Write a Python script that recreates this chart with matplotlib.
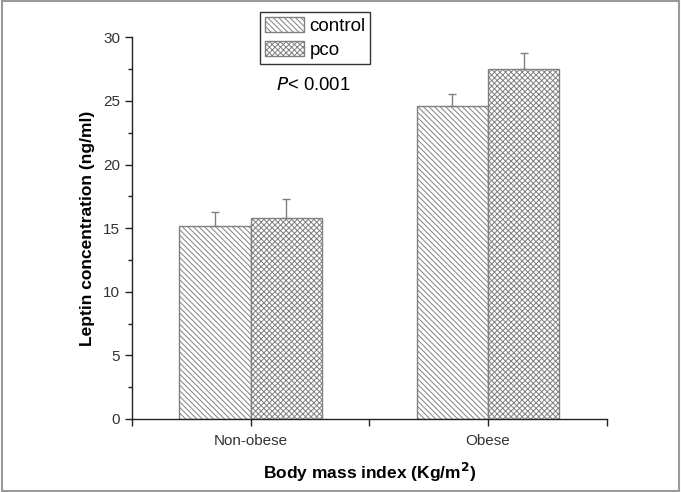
import matplotlib
matplotlib.use("Agg")
import matplotlib.pyplot as plt
import matplotlib.patches as mpatches
import numpy as np

plt.rcParams['font.family'] = ['Liberation Sans', 'DejaVu Sans']
plt.rcParams['hatch.color'] = '#7a7a7a'
plt.rcParams['hatch.linewidth'] = 0.7

categories = ["Non-obese", "Obese"]
series = ["control", "pco"]
control_vals = [15.2, 24.6]
control_err = [1.1, 0.95]
pco_vals = [15.8, 27.5]
pco_err = [1.5, 1.25]
hatches = ['\\\\\\\\\\\\', 'xxxxxx']

fig = plt.figure(figsize=(6.81, 4.92), dpi=100)
ax = fig.add_axes([0.1938, 0.1484, 0.6972, 0.7758])

x = np.arange(1, len(categories) + 1)
w = 0.3
edge = '#808080'
ekw = dict(ecolor=edge, capsize=3, elinewidth=1.0, capthick=1.0)
ax.bar(x - w/2, control_vals, w, color='white', edgecolor=edge, hatch=hatches[0], linewidth=1.0,
       yerr=[np.zeros(len(x)), control_err], error_kw=ekw, label=series[0])
ax.bar(x + w/2, pco_vals, w, color='white', edgecolor=edge, hatch=hatches[1], linewidth=1.0,
       yerr=[np.zeros(len(x)), pco_err], error_kw=ekw, label=series[1])

ax.set_xlim(0.5, 2.5)
ax.set_ylim(0, 30)
ax.set_xticks([0.5, 1, 1.5, 2, 2.5])
ax.set_xticklabels(["", categories[0], "", categories[1], ""])
ax.set_yticks(np.arange(0, 31, 5))
ax.set_yticks(np.arange(0, 30, 2.5), minor=True)
ax.spines['top'].set_visible(False)
ax.spines['right'].set_visible(False)
for s in ['left', 'bottom']:
    ax.spines[s].set_color('#222222')
    ax.spines[s].set_linewidth(1.0)
ax.tick_params(axis='both', which='major', direction='out', length=5, width=1.0, color='#222222',
               labelsize=11, labelcolor='#333333')
ax.tick_params(axis='y', which='minor', direction='out', length=3, width=1.0, color='#222222')
ax.tick_params(axis='x', pad=6)

ax.set_ylabel("Leptin concentration (ng/ml)", fontsize=12.5, fontweight='bold', labelpad=6)
ax.set_xlabel("Body mass index (Kg/m$^\\mathbf{2}$)", fontsize=12.5, fontweight='bold', labelpad=9)

handles = [mpatches.Patch(facecolor='white', edgecolor=edge, hatch=hatches[0]),
           mpatches.Patch(facecolor='white', edgecolor=edge, hatch=hatches[1])]
leg = ax.legend(handles, series, loc='upper left', bbox_to_anchor=(0.2695, 1.065), fontsize=13.5,
                fancybox=False, edgecolor='#333333', framealpha=1, handlelength=2.1, handleheight=0.8,
                handletextpad=0.3, borderpad=0.25, labelspacing=0.35, borderaxespad=0)
leg.get_frame().set_linewidth(1.0)

ax.text(0.381, 0.875, "$\\mathit{P}$< 0.001", transform=ax.transAxes, ha='center', va='center', fontsize=13.3)

fig.patches.append(mpatches.Rectangle((0.003, 0.003), 0.994, 0.994, transform=fig.transFigure,
                                      fill=False, edgecolor='#9a9a9a', linewidth=1.5))

fig.savefig("out.png", dpi=100)
